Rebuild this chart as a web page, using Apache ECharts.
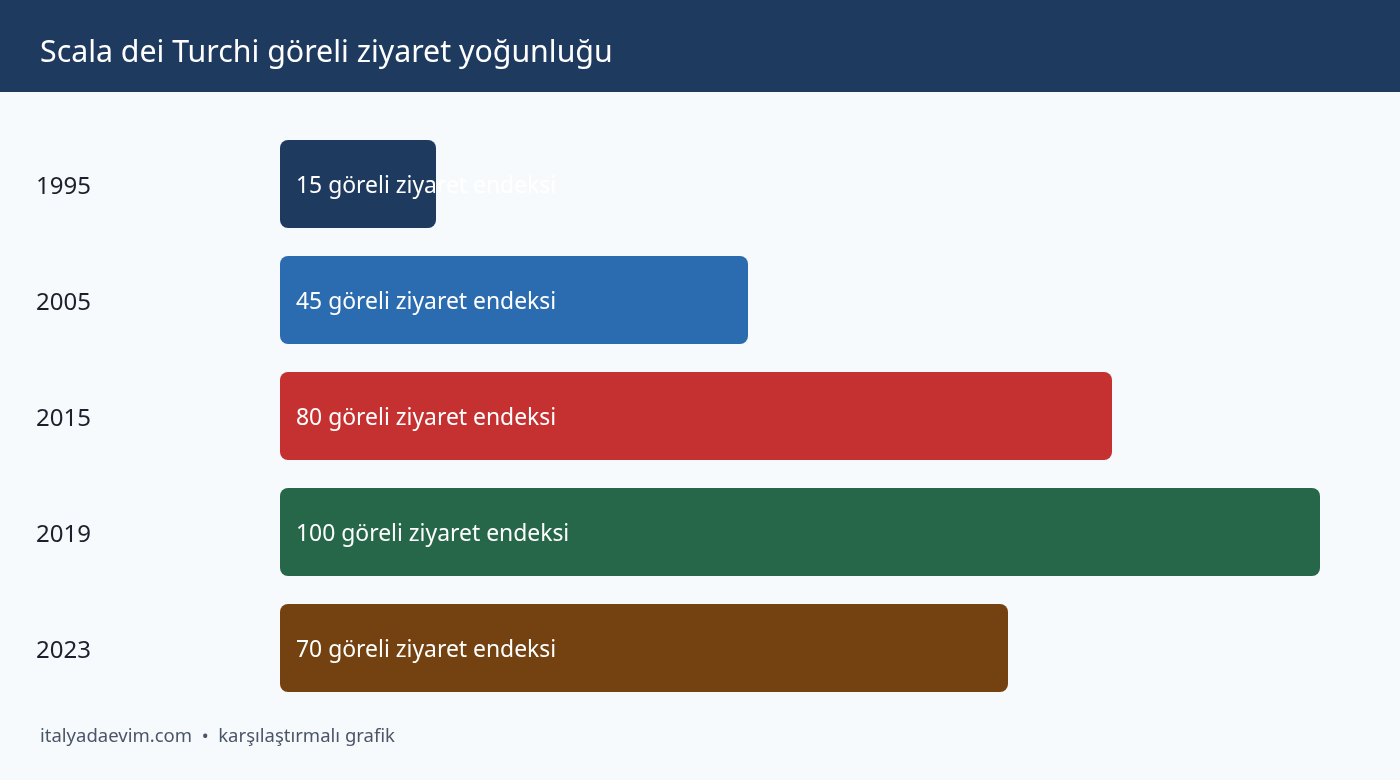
<!DOCTYPE html>
<html><head><meta charset="utf-8">
<script src="https://cdn.jsdelivr.net/npm/echarts@6/dist/echarts.min.js"></script>
<style>html,body{margin:0;padding:0;background:#f7fafc;}#c{width:1400px;height:780px;}</style>
</head><body><div id="c"></div>
<script>
var years = ['1995','2005','2015','2019','2023'];
var values = [15,45,80,100,70];
var colors = ['#1f3a5f','#2b6cb0','#c53030','#276749','#744210'];
var unit = 'göreli ziyaret endeksi';
var titleText = 'Scala dei Turchi göreli ziyaret yoğunluğu';
var footerText = 'italyadaevim.com  •  karşılaştırmalı grafik';
var FONT = '"Noto Sans", "Open Sans", sans-serif';

var chart = echarts.init(document.getElementById('c'));
chart.setOption({
  backgroundColor: '#f7fafc',
  animation: false,
  graphic: [
    {type:'rect', shape:{x:0,y:0,width:1400,height:92}, style:{fill:'#1f3a5f'}, z:0},
    {type:'text', x:40, y:737, style:{text:footerText, fill:'#4a5568', font:'18.5px '+FONT, verticalAlign:'middle', textVerticalAlign:'middle'}}
  ],
  title: {text: titleText, left: 35, top: 33, textStyle:{color:'#ffffff', fontSize:30.3, fontWeight:'normal', fontFamily:FONT}},
  grid: {left:280, right:80, top:126, bottom:74},
  xAxis: {type:'value', min:0, max:100, show:false},
  yAxis: {type:'category', data: years, inverse:true,
    axisLine:{show:false}, axisTick:{show:false}, splitLine:{show:false},
    axisLabel:{align:'left', verticalAlign:'top', lineHeight:7, margin:244, color:'#1a202c', fontSize:24, fontFamily:FONT}},
  series: [{
    type:'bar', barWidth:88,
    data: values.map(function(v,i){return {value:v, itemStyle:{color:colors[i], borderRadius:8}};}),
    label:{show:true, position:'insideLeft', distance:16, offset:[0,2], color:'#ffffff', fontSize:22.9, fontFamily:FONT,
      formatter:function(p){return p.value+' '+unit;}}
  }]
});
</script></body></html>
